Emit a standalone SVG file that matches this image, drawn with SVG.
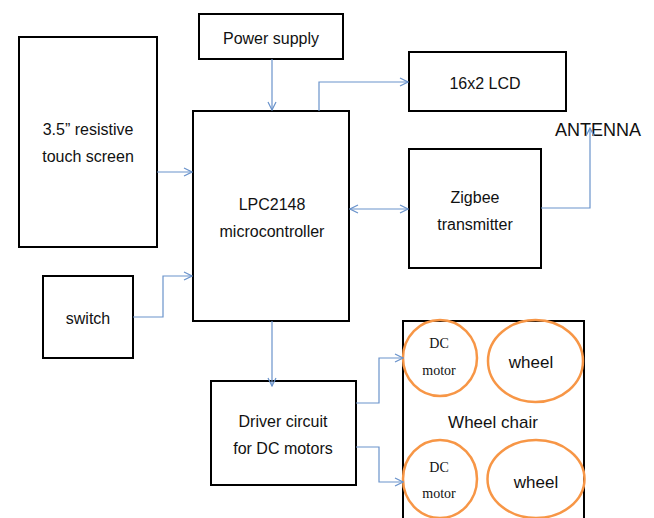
<svg xmlns="http://www.w3.org/2000/svg" width="654" height="518" viewBox="0 0 654 518">
<style>
.box{fill:#fff;stroke:#000;stroke-width:2}
.ell{fill:none;stroke:#F79646;stroke-width:2.5}
.t{font-family:"Liberation Sans",Arial,sans-serif;font-size:16px;fill:#111;text-anchor:middle}
.s{font-family:"Liberation Serif","Times New Roman",serif;font-size:14px;fill:#111;text-anchor:middle}
.c{fill:none;stroke:#6A93CB;stroke-width:1.2}
</style>
<defs>
<marker id="a" viewBox="0 0 10 10" refX="9" refY="5" markerWidth="10" markerHeight="10" markerUnits="userSpaceOnUse" orient="auto-start-reverse">
<path d="M1,1 L9,5 L1,9" fill="none" stroke="#6A93CB" stroke-width="1.2"/>
</marker>
</defs>
<rect width="654" height="518" fill="#fff"/>
<g id="touch"><rect class="box" x="19" y="37" width="138" height="210"/><text class="t" x="88" y="135">3.5” resistive</text><text class="t" x="88" y="162">touch screen</text></g>
<g id="power"><rect class="box" x="199" y="14" width="144" height="45"/><text class="t" x="271" y="44">Power supply</text></g>
<g id="lpc"><rect class="box" x="193" y="111" width="156" height="210"/><text class="t" x="272" y="210">LPC2148</text><text class="t" x="272" y="237">microcontroller</text></g>
<g id="lcd"><rect class="box" x="409" y="52" width="157" height="59"/><text class="t" x="485" y="89">16x2 LCD</text></g>
<g id="zigbee"><rect class="box" x="409" y="149" width="132" height="119"/><text class="t" x="475" y="203">Zigbee</text><text class="t" x="475" y="230">transmitter</text></g>
<g id="antenna"><text x="555" y="136" style="font-family:'Liberation Sans',Arial,sans-serif;font-size:18px;fill:#111">ANTENNA</text></g>
<g id="switch"><rect class="box" x="43" y="276" width="90" height="82"/><text class="t" x="88" y="324">switch</text></g>
<g id="driver"><rect class="box" x="211" y="381" width="145" height="104"/><text class="t" x="283" y="427">Driver circuit</text><text class="t" x="283" y="454">for DC motors</text></g>
<g id="wheelchair"><rect class="box" x="403" y="321" width="181" height="205"/><text class="t" x="493" y="428" style="font-size:17px">Wheel chair</text></g>
<g id="motor1"><ellipse class="ell" cx="440" cy="358" rx="37" ry="38"/><text class="s" x="439" y="348">DC</text><text class="s" x="439" y="375">motor</text></g>
<g id="wheel1"><ellipse class="ell" cx="535.5" cy="361" rx="47.5" ry="41"/><text class="t" x="531" y="368" style="font-size:17px">wheel</text></g>
<g id="motor2"><ellipse class="ell" cx="440" cy="479" rx="37" ry="39"/><text class="s" x="439" y="472">DC</text><text class="s" x="439" y="498">motor</text></g>
<g id="wheel2"><ellipse class="ell" cx="536" cy="479" rx="48.5" ry="39"/><text class="t" x="536" y="488" style="font-size:17px">wheel</text></g>
<g id="connectors">
<path class="c" d="M272,59 V110" marker-end="url(#a)"/>
<path class="c" d="M157,172 H192" marker-end="url(#a)"/>
<path class="c" d="M319,111 V82 H408" marker-end="url(#a)"/>
<path class="c" d="M350,209 H408" marker-start="url(#a)" marker-end="url(#a)"/>
<path class="c" d="M541,208 H590 V128" marker-end="url(#a)"/>
<path class="c" d="M133,317 H163 V276 H192" marker-end="url(#a)"/>
<path class="c" d="M272,321 V386" marker-end="url(#a)"/>
<path class="c" d="M356,403 H379 V358 H403" marker-end="url(#a)"/>
<path class="c" d="M356,447 H379 V482 H403" marker-end="url(#a)"/>
</g>
</svg>
